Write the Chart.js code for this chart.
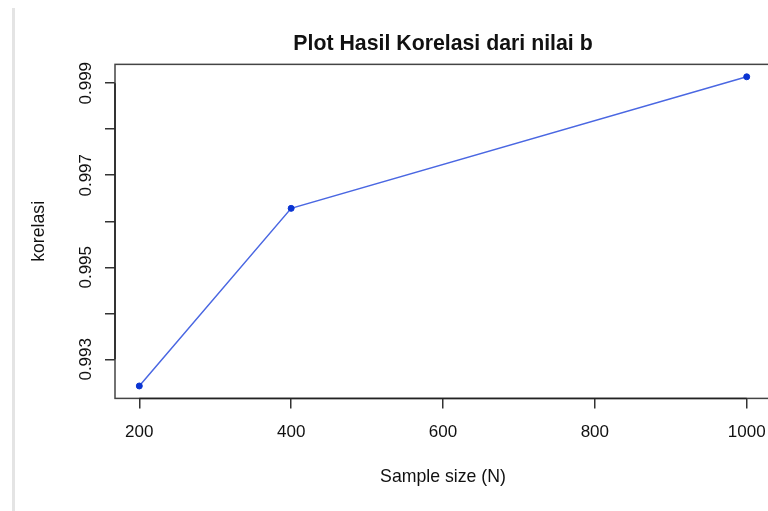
<!DOCTYPE html>
<html>
<head>
<meta charset="utf-8">
<script src="https://cdn.jsdelivr.net/npm/chart.js@4"></script>
<style>
  html, body { margin: 0; padding: 0; overflow: hidden; background: #fff; }
  #wrap { position: relative; width: 800px; height: 511px; }
  #rule { position: absolute; left: 12px; top: 8px; width: 3px; height: 503px; background: #e4e4e4; }
  canvas { position: absolute; left: 0; top: 0; }
</style>
</head>
<body>
<div id="wrap">
  <div id="rule"></div>
  <canvas id="c" width="800" height="511"></canvas>
</div>
<script>
// Sample sizes and the correlation obtained for each
const sampleSizes = [200, 400, 1000];
const korelasi = [0.99242, 0.99628, 0.99914];

// Axis ticks
const xTickValues = [200, 400, 600, 800, 1000];
const yTickValues = [0.993, 0.994, 0.995, 0.996, 0.997, 0.998, 0.999];
const yTickLabels = ['0.993', '', '0.995', '', '0.997', '', '0.999'];

const FONT = "'Liberation Sans', Arial, Helvetica, sans-serif";
const INK = '#111';

// Frame around the plotting region, with the axis lines spanning the tick range
const framePlugin = {
  id: 'frame',
  afterDraw(chart) {
    const { ctx, chartArea: a, scales } = chart;
    ctx.save();
    ctx.strokeStyle = '#444';
    ctx.lineWidth = 1.5;
    ctx.strokeRect(a.left, a.top, a.right - a.left, a.bottom - a.top);
    ctx.strokeStyle = '#222';
    ctx.beginPath();
    const x0 = scales.x.getPixelForValue(xTickValues[0]);
    const x1 = scales.x.getPixelForValue(xTickValues[xTickValues.length - 1]);
    ctx.moveTo(x0, a.bottom); ctx.lineTo(x1, a.bottom);
    const y0 = scales.y.getPixelForValue(yTickValues[0]);
    const y1 = scales.y.getPixelForValue(yTickValues[yTickValues.length - 1]);
    ctx.moveTo(a.left, y0); ctx.lineTo(a.left, y1);
    ctx.stroke();
    ctx.restore();
  }
};

new Chart(document.getElementById('c'), {
  type: 'line',
  data: {
    datasets: [{
      data: sampleSizes.map((n, i) => ({ x: n, y: korelasi[i] })),
      borderColor: '#4a67e2',
      borderWidth: 1.5,
      pointBackgroundColor: '#0a34d2',
      pointBorderColor: '#0a34d2',
      pointRadius: 3,
      pointBorderWidth: 1,
      tension: 0,
      fill: false
    }]
  },
  options: {
    responsive: false,
    animation: false,
    events: [],
    layout: { padding: { left: 0, right: 29, top: 0, bottom: 0 } },
    plugins: {
      legend: { display: false },
      tooltip: { enabled: false },
      title: {
        display: true,
        text: 'Plot Hasil Korelasi dari nilai b',
        fullSize: false,
        color: INK,
        font: { family: FONT, size: 21.3, weight: 'bold', lineHeight: 1.2 },
        padding: { top: 31.2, bottom: 7.6 }
      }
    },
    scales: {
      x: {
        type: 'linear',
        min: 168,
        max: 1032,
        afterBuildTicks: s => { s.ticks = xTickValues.map(v => ({ value: v })); },
        afterFit: s => { s.height = 112.6; },
        border: { display: false },
        grid: { drawOnChartArea: false, drawTicks: true, tickLength: 10, color: '#333', lineWidth: 1.5 },
        ticks: {
          color: INK,
          font: { family: FONT, size: 17 },
          padding: 13.4,
          maxRotation: 0,
          autoSkip: false,
          callback: v => String(v)
        },
        title: {
          display: true,
          text: 'Sample size (N)',
          color: INK,
          font: { family: FONT, size: 17.7, lineHeight: 1.2 },
          padding: { top: 0, bottom: 23.4 }
        }
      },
      y: {
        type: 'linear',
        min: 0.99215,
        max: 0.99941,
        afterBuildTicks: s => { s.ticks = yTickValues.map(v => ({ value: v })); },
        afterFit: s => { s.width = 115; },
        border: { display: false },
        grid: { drawOnChartArea: false, drawTicks: true, tickLength: 10, color: '#333', lineWidth: 1.5 },
        ticks: {
          color: INK,
          font: { family: FONT, size: 17 },
          minRotation: 90,
          maxRotation: 90,
          crossAlign: 'center',
          padding: -2.2,
          autoSkip: false,
          callback: (v, i) => yTickLabels[i]
        },
        title: {
          display: true,
          text: 'korelasi',
          color: INK,
          font: { family: FONT, size: 17.7, lineHeight: 1.2 },
          padding: { top: 28, bottom: 0 }
        }
      }
    }
  },
  plugins: [framePlugin]
});
</script>
</body>
</html>
